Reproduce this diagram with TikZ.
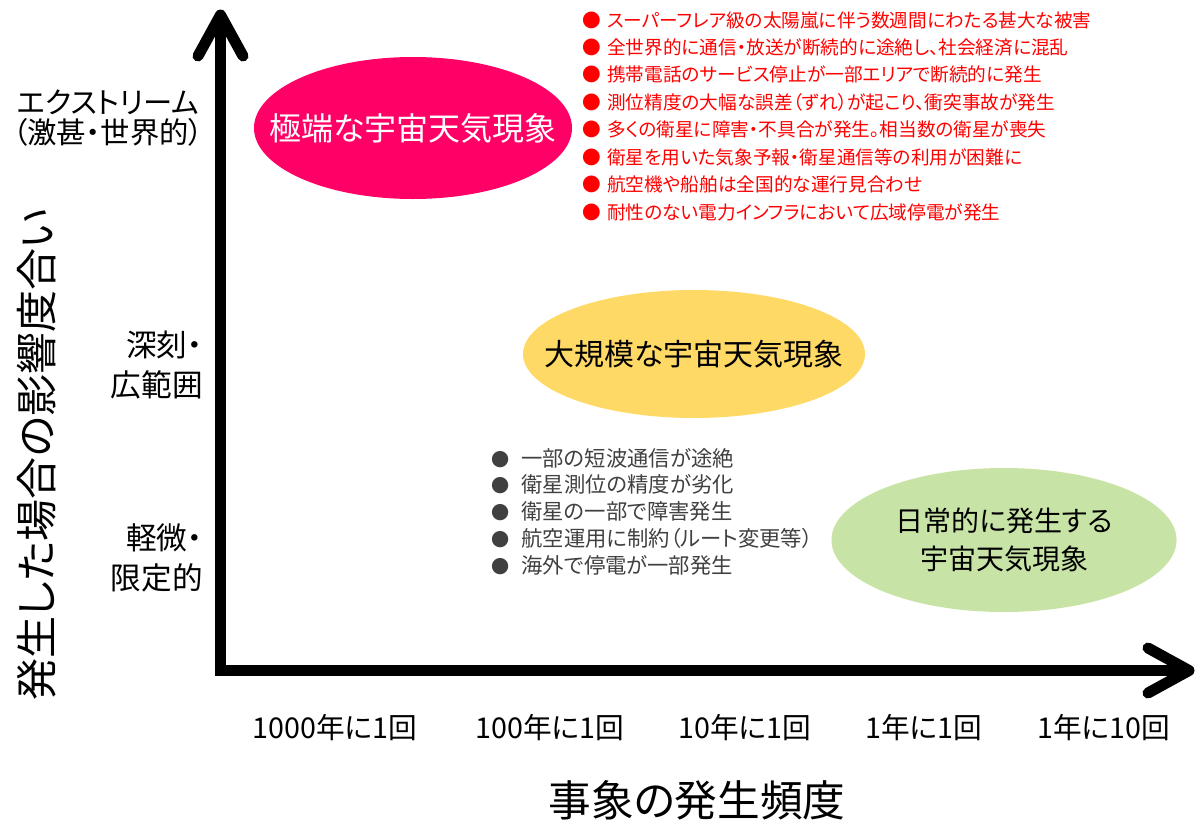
\documentclass[tikz,border=0pt]{standalone}
\usepackage{fontspec}
\setmainfont[RawFeature=+palt]{Noto Sans CJK JP}
\usetikzlibrary{calc}
\definecolor{pinkE}{HTML}{FF0066}
\definecolor{yellowE}{HTML}{FFD966}
\definecolor{greenE}{HTML}{C8E3A6}
\definecolor{redT}{HTML}{FF0000}
\definecolor{grayT}{HTML}{404040}
\newcommand{\rbul}{\makebox[13.5pt][c]{●}\hspace{4.5pt}}
\newcommand{\gbul}{\makebox[15pt][c]{\scalebox{0.85}{●}}\hspace{8.5pt}}
\tikzset{
  axisline/.style={line width=8.25pt, black},
  chevron/.style={line width=8.25pt, black, line cap=round, line join=round},
  lbl/.style={inner sep=0pt, align=center},
  fs/.style 2 args={font=\fontsize{#1}{#2}\selectfont},
}
\begin{document}
\begin{tikzpicture}[x=0.75pt, y=-0.75pt]
\useasboundingbox (0,0) rectangle (1195,821);
% axes
\coordinate (O) at (220.5,670.5);
\coordinate (ytip) at (220.5,15);
\coordinate (xtip) at (1189,670.5);
\draw[axisline, line join=miter] (ytip) -- (O) -- (xtip);
\draw[chevron] ($(ytip)+(-22.5,41)$) -- (ytip) -- ($(ytip)+(22.5,41)$);
\draw[chevron] ($(xtip)+(-41,-22.5)$) -- (xtip) -- ($(xtip)+(-41,22.5)$);
% ellipses
\coordinate (cE) at (413,128);
\coordinate (cB) at (694,354);
\coordinate (cD) at (1004,540);
\fill[pinkE] (cE) ellipse [x radius=119.25pt, y radius=53.25pt];
\fill[yellowE] (cB) ellipse [x radius=128.25pt, y radius=48pt];
\fill[greenE] (cD) ellipse [x radius=129.4pt, y radius=54pt];
\node[lbl, text=white, fs={24}{28}] (ext) at (cE) {極端な宇宙天気現象};
\node[lbl, text=black, fs={22.5}{26}] (big) at (cB) {大規模な宇宙天気現象};
\node[lbl, text=black, fs={21}{28}] (day) at (cD) {日常的に発生する\\宇宙天気現象};
% red list
\node[anchor=west, inner sep=0pt, align=left, text=redT, fs={14}{20.57}] (redlist) at (583,116) {%
\rbul スーパーフレア級の太陽嵐に伴う数週間にわたる甚大な被害\\
\rbul 全世界的に通信・放送が断続的に途絶し、社会経済に混乱\\
\rbul 携帯電話のサービス停止が一部エリアで断続的に発生\\
\rbul 測位精度の大幅な誤差（ずれ）が起こり、衝突事故が発生\\
\rbul 多くの衛星に障害・不具合が発生。相当数の衛星が喪失\\
\rbul 衛星を用いた気象予報・衛星通信等の利用が困難に\\
\rbul 航空機や船舶は全国的な運行見合わせ\\
\rbul 耐性のない電力インフラにおいて広域停電が発生};
% gray list
\node[anchor=west, inner sep=0pt, align=left, text=grayT, fs={16}{20.06}] (graylist) at (490,511.5) {%
\gbul 一部の短波通信が途絶\\
\gbul 衛星測位の精度が劣化\\
\gbul 衛星の一部で障害発生\\
\gbul 航空運用に制約（ルート変更等）\\
\gbul 海外で停電が一部発生};
% y level labels
\node[lbl, fs={22}{22.5}] (lvl3) at (108,118) {エクストリーム\\（激甚・世界的）};
\node[anchor=east, align=right, inner sep=0pt, fs={23}{30}] (lvl2) at (203,365) {深刻・\\広範囲};
\node[anchor=east, align=right, inner sep=0pt, fs={23}{30}] (lvl1) at (203,557.5) {軽微・\\限定的};
% y title
\node[rotate=90, inner sep=0pt, fs={31.5}{36}] (ytitle) at (37,455) {発生した場合の影響度合い};
% x labels
\node[lbl, fs={21.5}{24}] (f1) at (335,728) {1000年に1回};
\node[lbl, fs={21.5}{24}] (f2) at (550,728) {100年に1回};
\node[lbl, fs={21.5}{24}] (f3) at (745,728) {10年に1回};
\node[lbl, fs={21.5}{24}] (f4) at (924,728) {1年に1回};
\node[lbl, fs={21.5}{24}] (f5) at (1104,728) {1年に10回};
% x title
\node[lbl, fs={32}{36}] (xtitle) at (697,800) {事象の発生頻度};
\end{tikzpicture}
\end{document}
